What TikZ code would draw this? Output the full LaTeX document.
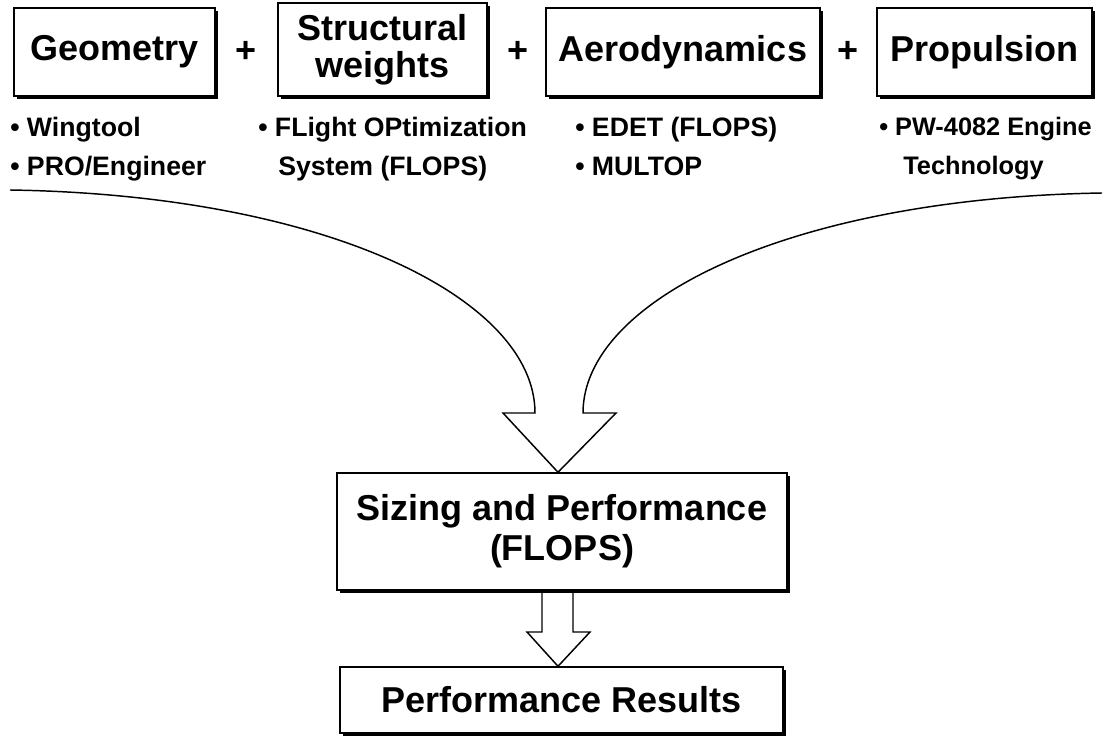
\documentclass[tikz,border=0pt]{standalone}
\usepackage{fontspec}
\setmainfont{Liberation Sans}
\usetikzlibrary{shadows}
\begin{document}
\begin{tikzpicture}[x=0.75pt,y=-0.75pt,
  bx/.style={draw, fill=white, line width=1.1pt, inner sep=0pt, align=center,
    font=\fontsize{27}{28}\selectfont\bfseries,
    drop shadow={shadow xshift=2.4pt, shadow yshift=-2.4pt, opacity=1, fill=black}},
  plus/.style={font=\fontsize{27}{28}\selectfont\bfseries, inner sep=0pt},
  bul/.style={anchor=north west, inner sep=0pt, align=left,
    font=\fontsize{20}{29}\selectfont\bfseries},
  flow/.style={line width=1.1pt, line join=miter}]
\useasboundingbox (0,0) rectangle (1104,738);
% top boxes
\node[bx, minimum width=150.75pt, minimum height=66pt] (geo) at (114.5,52) {Geometry};
\node[plus] (p1) at (246,52) {+};
\node[bx, minimum width=156.75pt, minimum height=69.75pt] (str) at (382.5,49.5) {Structural\\weights};
\node[plus] (p2) at (518,52) {+};
\node[bx, minimum width=205.5pt, minimum height=66pt] (aer) at (683,52) {Aerodynamics};
\node[plus] (p3) at (848,52) {+};
\node[bx, minimum width=161.25pt, minimum height=66pt] (pro) at (984.5,52) {Propulsion};
% bullets
\node[bul] (bgeo) at (10,117) {• Wingtool\\• PRO/Engineer};
\node[bul] (bstr) at (258,117) {• FLight OPtimization\\\hspace*{0.75em}System (FLOPS)};
\node[bul] (baer) at (575,117) {• EDET (FLOPS)\\• MULTOP};
\node[bul, font=\fontsize{19}{29}\selectfont\bfseries] (bpro) at (879,117) {• PW-4082 Engine\\\hspace*{0.95em}Technology};
% lower boxes
\node[bx, minimum width=337.5pt, minimum height=87.75pt,
  font=\fontsize{27}{30}\selectfont\bfseries] (siz) at (562,531.5) {Sizing and Performance\\(FLOPS)};
\node[bx, minimum width=332.25pt, minimum height=49.5pt] (res) at (561.5,700) {Performance Results};
% big merging arrow
\coordinate (lstart) at (10,190);
\coordinate (rstart) at (1102,193);
\coordinate (tip) at (siz.north -| 558,0);
\draw[flow] (lstart) .. controls (330,195) and (535,300) .. (535,413)
  -- (503,413) -- (tip) -- (616,413) -- (583,413)
  .. controls (583,300) and (790,198) .. (rstart);
% small arrow
\coordinate (tip2) at (res.north -| 558,0);
\draw[flow, fill=white] (542,593) -- (542,632) -- (527,632) -- (tip2) -- (590,632) -- (573,632) -- (573,593);
\end{tikzpicture}
\end{document}
